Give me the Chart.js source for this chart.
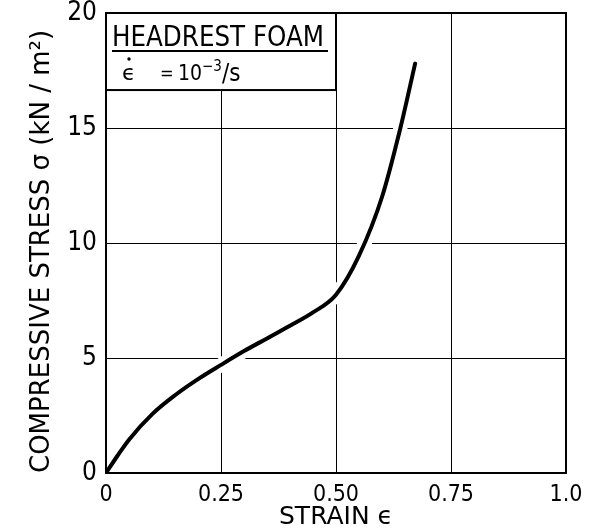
<!DOCTYPE html>
<html>
<head>
<meta charset="utf-8">
<script src="https://cdn.jsdelivr.net/npm/chart.js@4"></script>
<style>
  html, body { margin: 0; padding: 0; background: #fff; }
  #wrap { width: 590px; height: 532px; }
</style>
</head>
<body>
<div id="wrap"><canvas id="foamChart" width="590" height="532"></canvas></div>
<script>
const strain = [0, 0.025, 0.05, 0.1, 0.15, 0.2, 0.25, 0.3, 0.35, 0.4, 0.45, 0.5, 0.55, 0.6, 0.64, 0.672];
const stress = [0, 0.75, 1.45, 2.55, 3.38, 4.08, 4.7, 5.3, 5.85, 6.4, 6.98, 7.75, 9.45, 12.0, 15.0, 17.8];
const xTicks = [0, 0.25, 0.5, 0.75, 1.0];
const xTickLabels = ["0", "0.25", "0.50", "0.75", "1.0"];
const yTicks = [0, 5, 10, 15, 20];

const NARROW = "'DejaVu Sans Condensed', 'DejaVu Sans', sans-serif";
const WIDE = "'DejaVu Sans', sans-serif";
const points = strain.map((x, i) => ({ x: x, y: stress[i] }));

// draw text squeezed to a given width
function fitText(ctx, text, x, y, width) {
    const w = ctx.measureText(text).width;
    ctx.save();
    ctx.translate(x, y);
    ctx.scale(width / w, 1);
    ctx.fillText(text, 0, 0);
    ctx.restore();
}

// frame round the plot and the label box in the top-left corner
const framePlugin = {
    id: "frame",
    afterDatasetsDraw(chart) {
        const { ctx, chartArea, scales } = chart;
        ctx.save();
        ctx.strokeStyle = "#000";
        ctx.lineWidth = 2;
        ctx.strokeRect(chartArea.left, chartArea.top, chartArea.right - chartArea.left, chartArea.bottom - chartArea.top);

        const bx0 = chartArea.left;
        const by0 = chartArea.top;
        const bx1 = scales.x.getPixelForValue(0.5);
        const by1 = scales.y.getPixelForValue(16.65);
        ctx.fillStyle = "#fff";
        ctx.fillRect(bx0, by0, bx1 - bx0, by1 - by0);
        ctx.strokeRect(bx0, by0, bx1 - bx0, by1 - by0);

        ctx.fillStyle = "#000";
        ctx.textBaseline = "alphabetic";
        ctx.textAlign = "left";
        ctx.font = "28px " + NARROW;
        fitText(ctx, "HEADREST FOAM", bx0 + 6, by0 + 33, 212);
        ctx.fillRect(bx0 + 6, by0 + 37, bx1 - bx0 - 14, 2);

        const baseY = by0 + 67;
        let x = bx0 + 16;
        ctx.font = "22px " + WIDE;
        ctx.fillText("ϵ", x, baseY);
        ctx.beginPath();
        ctx.arc(x + 7, baseY - 21, 1.7, 0, Math.PI * 2);
        ctx.fill();
        x = bx0 + 54;
        ctx.font = "18px " + NARROW;
        ctx.fillText("=", x, baseY - 1);
        x = bx0 + 72;
        ctx.font = "21px " + NARROW;
        ctx.fillText("10", x, baseY);
        x += ctx.measureText("10").width;
        ctx.font = "15px " + NARROW;
        ctx.fillText("−3", x, baseY - 9);
        x += ctx.measureText("−3").width;
        ctx.font = "24px " + NARROW;
        ctx.fillText("/s", x, baseY + 1);
        ctx.restore();
    }
};

new Chart(document.getElementById("foamChart").getContext("2d"), {
    type: "scatter",
    data: {
        datasets: [
            {
                // white halo that breaks the grid lines around the curve
                data: points,
                showLine: true,
                borderColor: "#fff",
                borderWidth: 14,
                pointRadius: 0,
                cubicInterpolationMode: "monotone",
                order: 2
            },
            {
                data: points,
                showLine: true,
                borderColor: "#000",
                borderWidth: 4,
                borderCapStyle: "round",
                pointRadius: 0,
                cubicInterpolationMode: "monotone",
                order: 1
            }
        ]
    },
    options: {
        responsive: false,
        animation: false,
        layout: { padding: { left: 0, right: 24, top: 13, bottom: 0 } },
        plugins: { legend: { display: false }, tooltip: { enabled: false } },
        scales: {
            x: {
                type: "linear",
                min: 0,
                max: 1,
                afterBuildTicks(scale) { scale.ticks = xTicks.map(v => ({ value: v })); },
                afterFit(scale) {
                    scale.height = 59;
                    scale.paddingLeft = 0;
                    scale.paddingRight = 0;
                },
                grid: { color: "#000", lineWidth: 1, drawTicks: false },
                border: { display: false },
                ticks: {
                    color: "#000",
                    padding: 8,
                    font: { family: NARROW, size: 23 },
                    callback: (v) => xTickLabels[xTicks.indexOf(v)]
                },
                title: {
                    display: true,
                    text: "STRAIN ϵ",
                    color: "#000",
                    font: { family: WIDE, size: 25 },
                    padding: { top: 0, bottom: 0 }
                }
            },
            y: {
                type: "linear",
                min: 0,
                max: 20,
                afterBuildTicks(scale) { scale.ticks = yTicks.map(v => ({ value: v })); },
                afterFit(scale) {
                    scale.width = 106;
                    scale.paddingTop = 0;
                    scale.paddingBottom = 0;
                },
                grid: { color: "#000", lineWidth: 1, drawTicks: false },
                border: { display: false },
                ticks: {
                    color: "#000",
                    padding: 9,
                    font: { family: NARROW, size: 26 }
                },
                title: {
                    display: true,
                    align: "start",
                    text: "COMPRESSIVE STRESS σ (kN / m²)",
                    color: "#000",
                    font: { family: WIDE, size: 26 },
                    padding: { top: 27, bottom: 0 }
                }
            }
        }
    },
    plugins: [framePlugin]
});
</script>
</body>
</html>
